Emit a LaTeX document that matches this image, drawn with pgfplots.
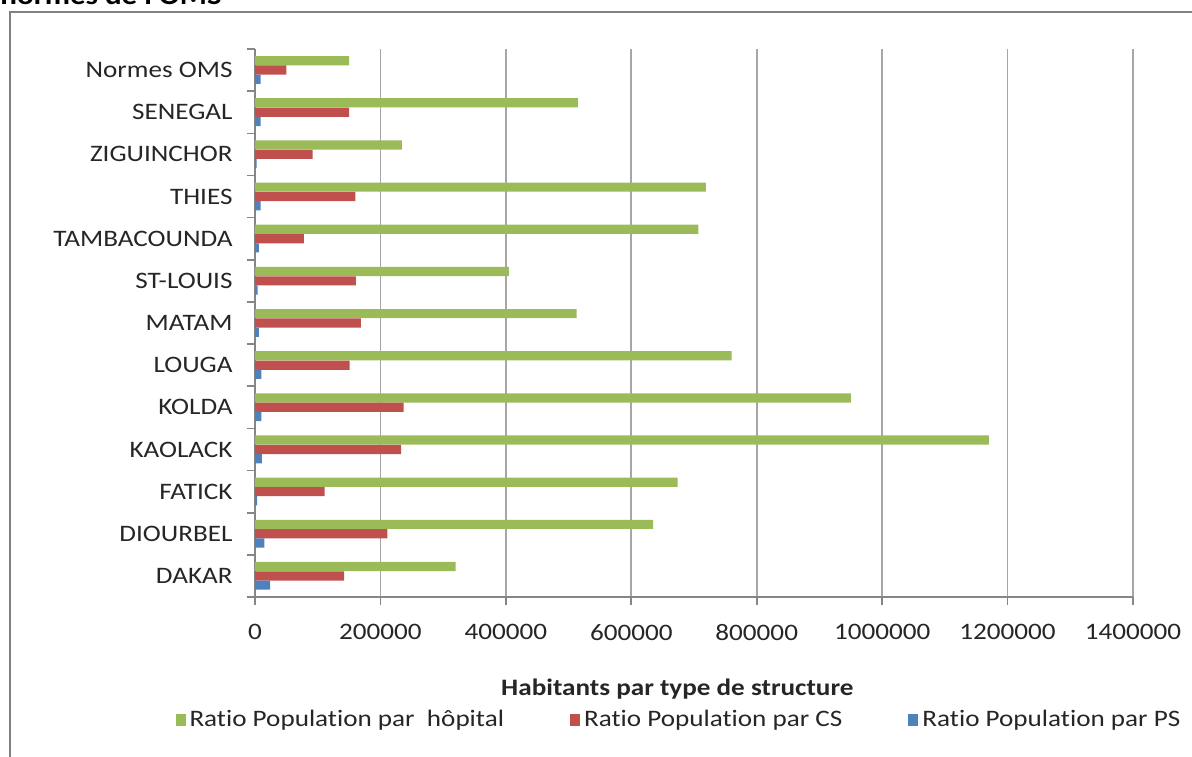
\documentclass[border=0pt]{standalone}
\usepackage{pgfplots}
\pgfplotsset{compat=1.18}
\usepackage{fontspec}
\setmainfont{Carlito}[FakeStretch=1.15, Ligatures=NoCommon, Contextuals=NoAlternate]
\definecolor{hgreen}{HTML}{9BBB59}
\definecolor{cred}{HTML}{C0504D}
\definecolor{pblue}{HTML}{4F81BD}
\definecolor{axisgray}{HTML}{868686}
\definecolor{gridgray}{HTML}{A6A6A6}
\definecolor{framegray}{HTML}{808080}
\begin{document}
\begin{tikzpicture}
\begin{axis}[
  at={(0,0)}, anchor=south west,
  scale only axis, width=439pt, height=274pt,
  xmin=0, xmax=1400000, ymin=-0.5, ymax=12.5,
  xbar, bar width=4.6pt,
  axis x line*=bottom, axis y line*=left,
  axis line style={-, draw=axisgray, line width=0.8pt},
  xtick={0,200000,400000,600000,800000,1000000,1200000,1400000},
  xticklabels={0,200000,400000,600000,800000,1000000,1200000,1400000},
  scaled x ticks=false,
  ytick={0,1,2,3,4,5,6,7,8,9,10,11,12},
  yticklabels={DAKAR,DIOURBEL,FATICK,KAOLACK,KOLDA,LOUGA,MATAM,ST-LOUIS,TAMBACOUNDA,THIES,ZIGUINCHOR,SENEGAL,Normes OMS},
  minor ytick={-0.5,0.5,1.5,2.5,3.5,4.5,5.5,6.5,7.5,8.5,9.5,10.5,11.5,12.5},
  tick align=outside, major tick length=4pt, minor tick length=4pt,
  tick style={axisgray, line width=0.8pt},
  major y tick style={draw=none},
  xmajorgrids, grid style={gridgray, line width=0.8pt},
  /pgf/number format/assume math mode=true,
  tick label style={font=\fontsize{11.8}{13}\selectfont, text=black!85},
  xticklabel style={yshift=-6pt},
  yticklabel style={xshift=-3.7pt},
  xlabel={Habitants par type de structure},
  xlabel style={font=\fontsize{11.8}{13}\selectfont\bfseries, text=black!85, at={(axis description cs:0.481,-0.168)}, anchor=center},
  legend style={draw=none, fill=none, at={(axis description cs:0.484,-0.2245)}, anchor=center,
    font=\fontsize{11.8}{13}\selectfont, text=black!85,
    /tikz/every even column/.append style={column sep=31pt}},
  legend columns=3,
  legend image code/.code={\fill[#1] (0.5pt,-3pt) rectangle (5.5pt,3pt);},
]
\addplot[fill=hgreen, draw=none, bar shift=4.7pt] coordinates {
 (320000,0) (635000,1) (674000,2) (1170000,3) (950000,4) (760000,5) (513000,6)
 (405000,7) (707000,8) (719000,9) (234000,10) (515000,11) (150000,12)};
\addplot[fill=cred, draw=none, bar shift=0pt] coordinates {
 (142000,0) (211000,1) (111000,2) (233000,3) (237000,4) (151000,5) (169000,6)
 (161000,7) (78000,8) (160000,9) (92000,10) (150000,11) (50000,12)};
\addplot[fill=pblue, draw=none, bar shift=-4.6pt] coordinates {
 (24000,0) (15000,1) (3400,2) (11000,3) (10000,4) (10000,5) (6000,6)
 (4000,7) (6000,8) (9000,9) (2400,10) (9000,11) (9000,12)};
\legend{Ratio Population par\ \ hôpital, Ratio Population par CS, Ratio Population par PS}
\end{axis}
\draw[framegray, line width=1pt] (-122.5pt,-100pt) |- (520pt,292.5pt);
\node[anchor=base west, inner sep=0pt, font=\fontsize{13.5}{15}\selectfont\bfseries] at (-127.5pt,296pt) {normes de l'OMS};
\pgfresetboundingbox
\useasboundingbox (-127.5pt,-79.5pt) rectangle (468.5pt,298.5pt);
\end{tikzpicture}
\end{document}
